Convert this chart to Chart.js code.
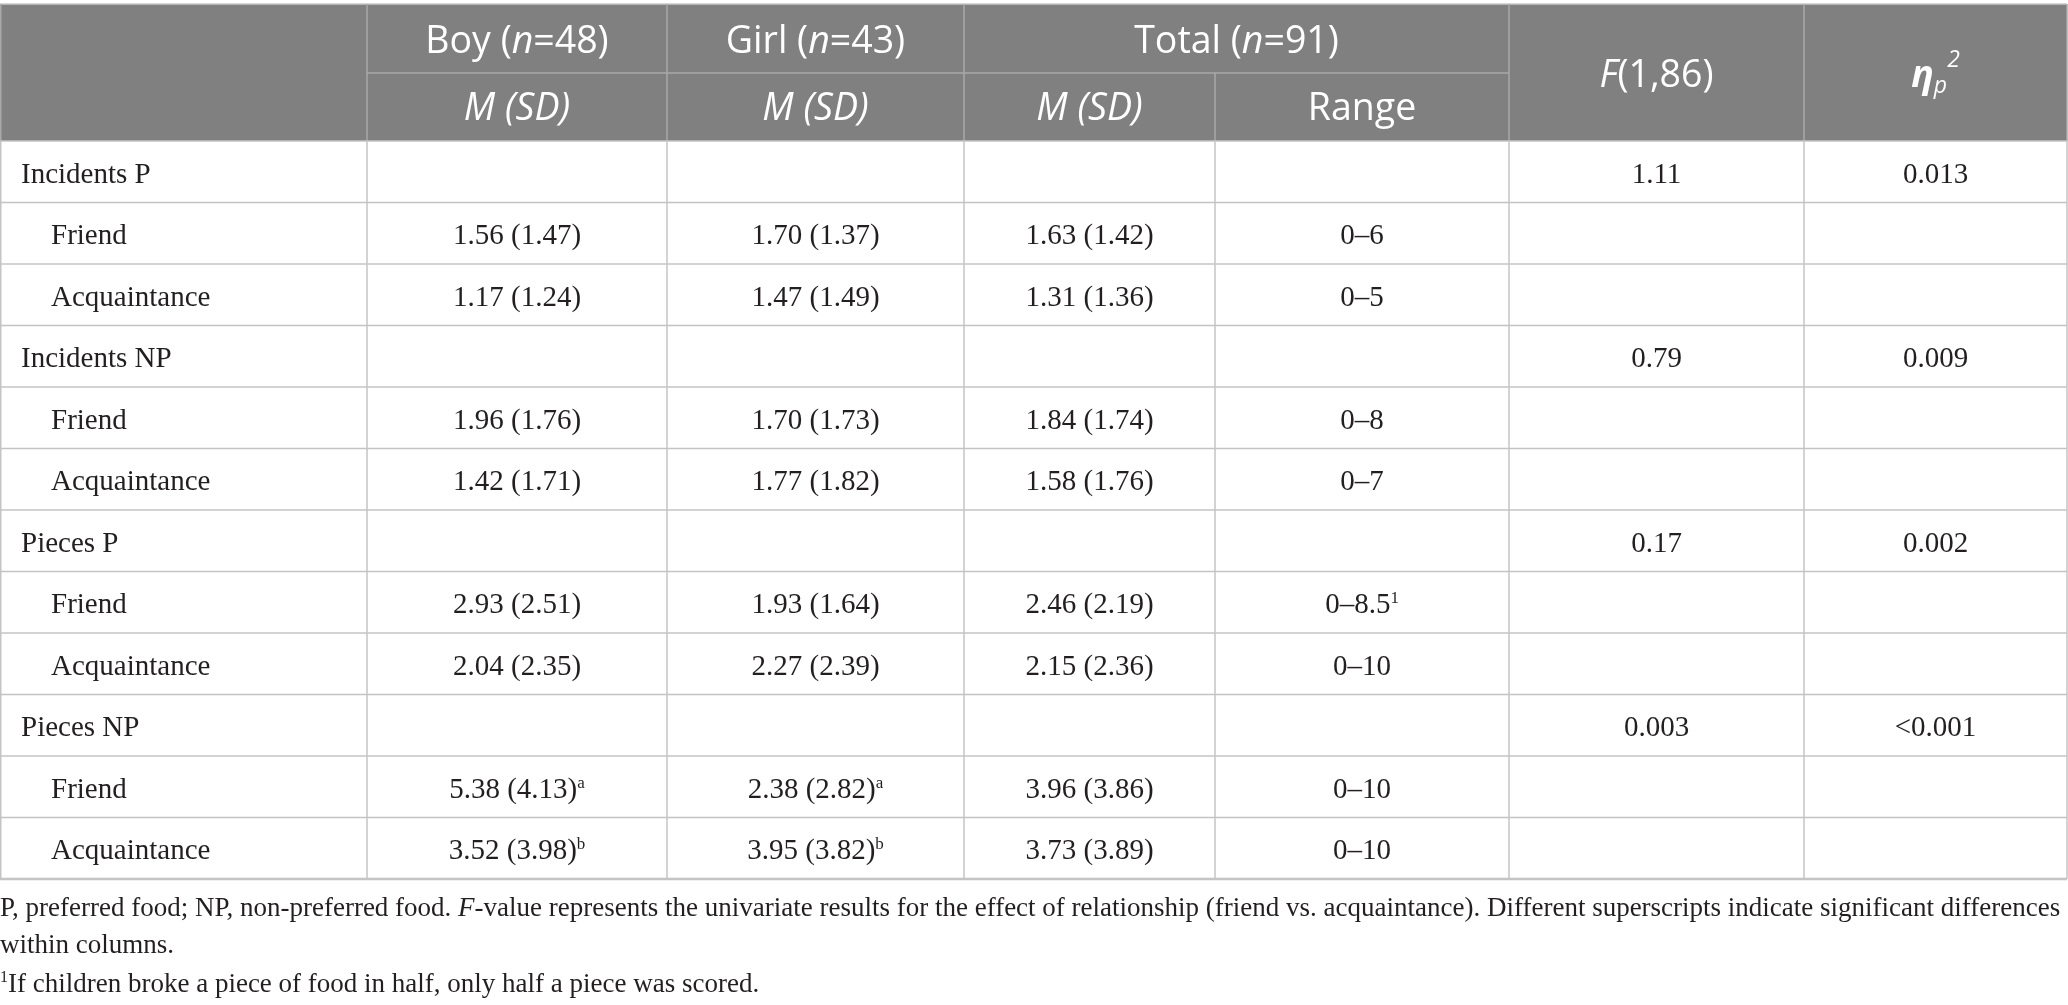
<!DOCTYPE html>
<html>
<head>
<meta charset="utf-8">
<script src="https://cdn.jsdelivr.net/npm/chart.js@4.4.1/dist/chart.umd.min.js"></script>
<style>
html,body{margin:0;padding:0;background:#fff;}
#wrap{width:2068px;height:1005px;position:relative;}
</style>
</head>
<body>
<div id="wrap"><canvas id="c" width="2068" height="1005"></canvas></div>
<script>
// ---------- data ----------
const groupLabels = ['Incidents P', 'Incidents NP', 'Pieces P', 'Pieces NP'];
const subLabels = ['Friend', 'Acquaintance'];
const sexLabels = ['Boy', 'Girl', 'Total'];
const sexN = [48, 43, 91];
const fDf = [1, 86];

const boyMean   = [1.56, 1.17, 1.96, 1.42, 2.93, 2.04, 5.38, 3.52];
const boySD     = [1.47, 1.24, 1.76, 1.71, 2.51, 2.35, 4.13, 3.98];
const boySup    = ['', '', '', '', '', '', 'a', 'b'];
const girlMean  = [1.70, 1.47, 1.70, 1.77, 1.93, 2.27, 2.38, 3.95];
const girlSD    = [1.37, 1.49, 1.73, 1.82, 1.64, 2.39, 2.82, 3.82];
const girlSup   = ['', '', '', '', '', '', 'a', 'b'];
const totalMean = [1.63, 1.31, 1.84, 1.58, 2.46, 2.15, 3.96, 3.73];
const totalSD   = [1.42, 1.36, 1.74, 1.76, 2.19, 2.36, 3.86, 3.89];
const rangeMin  = [0, 0, 0, 0, 0, 0, 0, 0];
const rangeMax  = ['6', '5', '8', '7', '8.5', '10', '10', '10'];
const rangeSup  = ['', '', '', '', '1', '', '', ''];
const fValues   = ['1.11', '0.79', '0.17', '0.003'];
const etaValues = ['0.013', '0.009', '0.002', '<0.001'];

const noteLine1a = 'P, preferred food; NP, non-preferred food. ';
const noteLine1b = 'F';
const noteLine1c = '-value represents the univariate results for the effect of relationship (friend vs. acquaintance). Different superscripts indicate significant differences';
const noteLine2 = 'within columns.';
const noteLine3 = 'If children broke a piece of food in half, only half a piece was scored.';

// ---------- layout (in scale units) ----------
const colEdges = [0, 367, 667, 964, 1215, 1509, 1804, 2067];
const tableTop = 4, headMid = 73, headBottom = 141, rowH = 61.5;

const SERIF = '"Liberation Serif", "Times New Roman", serif';
const SANS = '"Open Sans", "Noto Sans", sans-serif';

function drawRich(ctx, segs, x, base, align) {
  let w = 0;
  segs.forEach(s => { ctx.font = s.f; s.w = ctx.measureText(s.t).width; w += s.w; });
  let sx = align === 'center' ? x - w / 2 : x;
  segs.forEach(s => {
    ctx.font = s.f;
    ctx.textAlign = 'left';
    ctx.textBaseline = 'alphabetic';
    ctx.fillText(s.t, sx, base + (s.dy || 0));
    sx += s.w;
  });
}

const tablePlugin = {
  id: 'tablePlugin',
  afterDraw(chart) {
    const ctx = chart.ctx;
    const X = v => chart.scales.x.getPixelForValue(v);
    const Y = v => chart.scales.y.getPixelForValue(v);
    const nRows = groupLabels.length * (1 + subLabels.length);
    const bodyBottom = headBottom + nRows * rowH;
    ctx.save();

    // header background
    ctx.fillStyle = '#808080';
    ctx.fillRect(X(0), Y(tableTop), X(colEdges[7]) - X(0), Y(headBottom) - Y(tableTop));

    // header lines
    ctx.lineWidth = 1.5;
    const line = (x1, y1, x2, y2) => { ctx.beginPath(); ctx.moveTo(X(x1), Y(y1)); ctx.lineTo(X(x2), Y(y2)); ctx.stroke(); };
    ctx.strokeStyle = '#c8c8c8';
    line(0, tableTop, colEdges[7], tableTop);
    ctx.strokeStyle = '#a9a9a9';
    [1, 2, 3, 5, 6].forEach(i => line(colEdges[i], tableTop, colEdges[i], headBottom));
    line(colEdges[4], headMid, colEdges[4], headBottom);
    line(colEdges[1], headMid, colEdges[5], headMid);
    line(0.75, tableTop, 0.75, headBottom);
    line(colEdges[7], tableTop, colEdges[7], headBottom);

    // body lines
    ctx.strokeStyle = '#c4c4c4';
    for (let i = 0; i <= nRows; i++) {
      const y = headBottom + i * rowH;
      ctx.lineWidth = (i === nRows) ? 2.5 : 1.5;
      line(0, y, colEdges[7], y);
    }
    ctx.lineWidth = 1.5;
    colEdges.forEach((e, i) => line(i === 0 ? 0.75 : e, headBottom, i === 0 ? 0.75 : e, bodyBottom));

    // header text
    ctx.fillStyle = '#ffffff';
    const hs = 37.5;
    const hf = 'normal ' + hs + 'px ' + SANS, hi = 'italic ' + hs + 'px ' + SANS;
    sexLabels.forEach((lab, i) => {
      const a = colEdges[i + 1], b = (i === 2) ? colEdges[i + 3] : colEdges[i + 2];
      const cx = X((a + b) / 2);
      drawRich(ctx, [{ t: lab + ' (', f: hf }, { t: 'n', f: hi }, { t: '=' + sexN[i] + ')', f: hf }], cx, Y((tableTop + headMid) / 2 + 14), 'center');
    });
    for (let i = 1; i <= 3; i++) {
      const cx = X((colEdges[i] + colEdges[i + 1]) / 2);
      drawRich(ctx, [{ t: 'M (SD)', f: hi }], cx, Y((headMid + headBottom) / 2 + 13), 'center');
    }
    drawRich(ctx, [{ t: 'Range', f: hf }], X((colEdges[4] + colEdges[5]) / 2), Y((headMid + headBottom) / 2 + 13), 'center');
    drawRich(ctx, [{ t: 'F', f: hi }, { t: '(' + fDf[0] + ',' + fDf[1] + ')', f: hf }], X((colEdges[5] + colEdges[6]) / 2), Y((tableTop + headBottom) / 2 + 14), 'center');
    drawRich(ctx, [
      { t: 'η', f: 'italic bold ' + hs + 'px ' + SANS },
      { t: 'p', f: 'italic 23px ' + SANS, dy: 6 },
      { t: '2', f: 'italic 23px ' + SANS, dy: -20 }
    ], X((colEdges[6] + colEdges[7]) / 2), Y((tableTop + headBottom) / 2 + 14), 'center');

    // body text
    ctx.fillStyle = '#231f20';
    const bs = 29;
    const bf = bs + 'px ' + SERIF, sf = '17px ' + SERIF;
    const fmt = v => v.toFixed(2);
    let r = 0, k = 0;
    groupLabels.forEach((g, gi) => {
      const yc = headBottom + r * rowH + rowH / 2;
      drawRich(ctx, [{ t: g, f: bf }], X(21), Y(yc + 11), 'left');
      drawRich(ctx, [{ t: fValues[gi], f: bf }], X((colEdges[5] + colEdges[6]) / 2), Y(yc + 11), 'center');
      drawRich(ctx, [{ t: etaValues[gi], f: bf }], X((colEdges[6] + colEdges[7]) / 2), Y(yc + 11), 'center');
      r++;
      subLabels.forEach(s => {
        const y = headBottom + r * rowH + rowH / 2 + 11;
        drawRich(ctx, [{ t: s, f: bf }], X(51), Y(y), 'left');
        const cell = (m, sd, sup, ci) => {
          const segs = [{ t: fmt(m) + ' (' + fmt(sd) + ')', f: bf }];
          if (sup) segs.push({ t: sup, f: sf, dy: -10 });
          drawRich(ctx, segs, X((colEdges[ci] + colEdges[ci + 1]) / 2), Y(y), 'center');
        };
        cell(boyMean[k], boySD[k], boySup[k], 1);
        cell(girlMean[k], girlSD[k], girlSup[k], 2);
        cell(totalMean[k], totalSD[k], '', 3);
        const rs = [{ t: rangeMin[k] + '–' + rangeMax[k], f: bf }];
        if (rangeSup[k]) rs.push({ t: rangeSup[k], f: sf, dy: -10 });
        drawRich(ctx, rs, X((colEdges[4] + colEdges[5]) / 2), Y(y), 'center');
        r++; k++;
      });
    });

    // notes
    const nf = '27px ' + SERIF, ni = 'italic 27px ' + SERIF;
    drawRich(ctx, [{ t: noteLine1a, f: nf }, { t: noteLine1b, f: ni }, { t: noteLine1c, f: nf }], X(0), Y(916), 'left');
    drawRich(ctx, [{ t: noteLine2, f: nf }], X(0), Y(953), 'left');
    drawRich(ctx, [{ t: '1', f: '16px ' + SERIF, dy: -10 }, { t: noteLine3, f: nf }], X(0), Y(992), 'left');
    ctx.restore();
  }
};

new Chart(document.getElementById('c'), {
  type: 'scatter',
  data: { datasets: [] },
  options: {
    responsive: false,
    devicePixelRatio: 1,
    animation: false,
    layout: { padding: 0 },
    plugins: { legend: { display: false }, tooltip: { enabled: false }, title: { display: false } },
    scales: {
      x: { type: 'linear', min: 0, max: 2068, display: false },
      y: { type: 'linear', min: 0, max: 1005, reverse: true, display: false }
    }
  },
  plugins: [tablePlugin]
});
</script>
</body>
</html>
